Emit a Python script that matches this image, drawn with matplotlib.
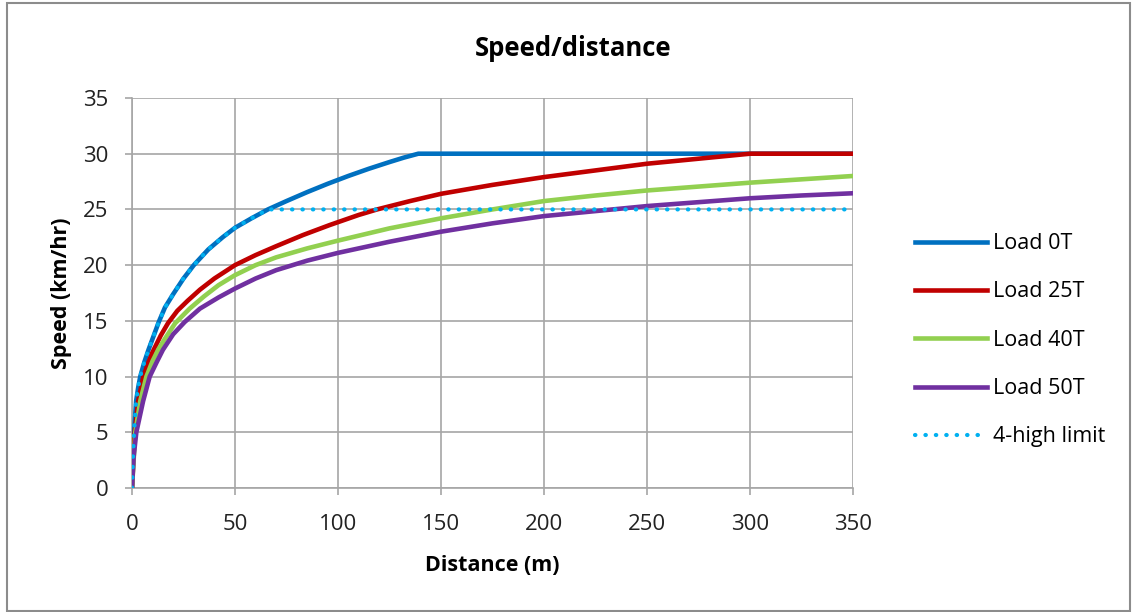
import numpy as np
import matplotlib.pyplot as plt
from matplotlib.patches import Rectangle

plt.rcParams['font.family'] = ['Open Sans', 'DejaVu Sans']

# Speed vs distance readings, one series per load
dist_0t = [0, 0.5, 1, 2, 3, 4, 6, 8, 10, 13, 16, 20, 25, 30, 37, 44, 50, 58, 66,
           75, 85, 95, 105, 115, 125, 132, 139, 350]
speed_0t = [0, 2.8, 5, 7.8, 9.0, 10, 11.3, 12.4, 13.4, 14.9, 16.2, 17.4, 18.8, 20.0, 21.4,
            22.5, 23.35, 24.2, 25, 25.75, 26.55, 27.3, 28.0, 28.65, 29.25, 29.65, 30, 30]

dist_25t = [0, 1.3, 3, 5.5, 8, 10, 14, 17.5, 22, 27, 33, 40, 50, 60, 70, 83, 96, 110,
            119, 135, 150, 175, 200, 225, 250, 275, 300, 350]
speed_25t = [0, 5, 7.8, 10, 11.3, 12.2, 13.7, 14.8, 15.9, 16.8, 17.8, 18.8, 20, 20.9, 21.7,
             22.7, 23.6, 24.5, 25, 25.75, 26.4, 27.2, 27.9, 28.5, 29.1, 29.55, 30, 30]

dist_40t = [0, 1.6, 4, 7, 10, 12.7, 16, 21, 28, 35, 42, 50, 60, 70, 85, 100, 125, 150,
            175, 200, 225, 250, 275, 300, 325, 350]
speed_40t = [0, 5, 7.8, 10, 11.4, 12.4, 13.4, 14.8, 16.1, 17.2, 18.2, 19.1, 20.0, 20.7,
             21.5, 22.2, 23.3, 24.2, 25.0, 25.75, 26.25, 26.7, 27.05, 27.4, 27.7, 28.0]

dist_50t = [0, 0.8, 2.1, 5.4, 8.6, 12, 15, 20, 25.6, 33, 42, 50, 60, 70, 85, 100, 125,
            150, 175, 200, 225, 250, 275, 300, 325, 350]
speed_50t = [0, 2.8, 5, 7.8, 10, 11.3, 12.4, 13.8, 14.9, 16.1, 17.1, 17.9, 18.8, 19.55, 20.4,
             21.1, 22.1, 23.0, 23.75, 24.4, 24.85, 25.3, 25.65, 26.0, 26.25, 26.45]

dist_limit = [0, 0.5, 1, 2, 3, 4, 6, 8, 10, 13, 16, 20, 25, 30, 37, 44, 50, 58, 66, 350]
speed_limit = [0, 2.8, 5, 7.8, 9.0, 10, 11.3, 12.4, 13.4, 14.9, 16.2, 17.4, 18.8, 20.0, 21.4,
               22.5, 23.35, 24.2, 25, 25]

fig = plt.figure(figsize=(11.35, 6.12), dpi=100)
ax = fig.add_axes([0.1163, 0.2026, 0.6352, 0.6373])

lw = 3.3
ax.plot(dist_0t, speed_0t, color='#0070C0', lw=lw, label='Load 0T', zorder=3)
ax.plot(dist_25t, speed_25t, color='#C00000', lw=lw, label='Load 25T', zorder=3)
ax.plot(dist_40t, speed_40t, color='#92D050', lw=lw, label='Load 40T', zorder=3)
ax.plot(dist_50t, speed_50t, color='#7030A0', lw=lw, label='Load 50T', zorder=3)
ax.plot(dist_limit, speed_limit, color='#00B0F0', lw=3.0, linestyle=(0, (0.1, 2.4)),
        dash_capstyle='round', label='4-high limit', zorder=4)

ax.set_xlim(0, 350)
ax.set_ylim(0, 35)
ax.set_xticks(np.arange(0, 351, 50))
ax.set_yticks(np.arange(0, 36, 5))
ax.grid(True, color='#A6A6A6', lw=1.2)
ax.set_axisbelow(True)
for s in ['top', 'right']:
    ax.spines[s].set_visible(False)
for s in ['left', 'bottom']:
    ax.spines[s].set_color('#A6A6A6')
    ax.spines[s].set_linewidth(1.2)
ax.tick_params(colors='#A6A6A6', labelcolor='#222222', labelsize=16, length=5, width=1.2)
ax.tick_params(axis='x', pad=14)
ax.tick_params(axis='y', pad=12)

ax.set_xlabel('Distance (m)', fontsize=15.5, fontweight='bold', labelpad=14)
ax.set_ylabel('Speed (km/hr)', fontsize=15.5, fontweight='bold', labelpad=8)
fig.text(0.505, 0.921, 'Speed/distance', ha='center', va='center', fontsize=18.5, fontweight='bold')

fig.legend(loc='center left', bbox_to_anchor=(0.789, 0.444), frameon=False, fontsize=15.5,
           handlelength=3.35, labelspacing=1.27, handletextpad=0.3)

fig.patches.append(Rectangle((0.006, 0.002), 0.99, 0.993, transform=fig.transFigure,
                             fill=False, edgecolor='#8C8C8C', lw=1.5))

fig.savefig('out.png', dpi=100)
